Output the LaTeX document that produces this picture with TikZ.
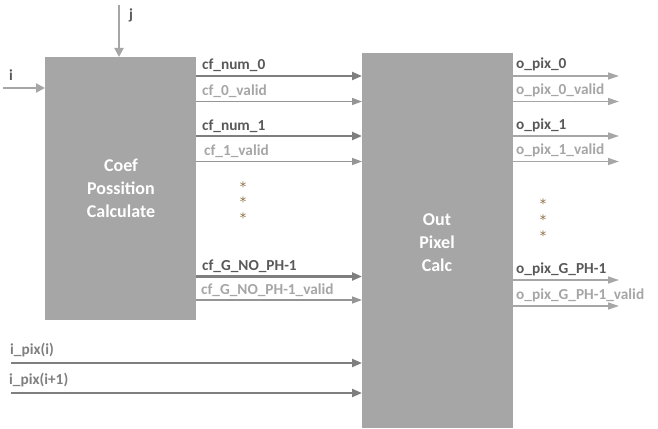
\documentclass[tikz,border=0pt]{standalone}
\usepackage{fontspec}
\setmainfont{Carlito}
\newfontfamily\starfont{DejaVu Sans}
\usetikzlibrary{arrows.meta}
\definecolor{blockgray}{HTML}{A6A6A6}
\definecolor{darkline}{HTML}{7F7F7F}
\definecolor{lightline}{HTML}{959595}
\definecolor{darktext}{HTML}{595959}
\definecolor{lighttext}{HTML}{A6A6A6}
\definecolor{dotcol}{HTML}{8C6D3F}
\begin{document}
\begin{tikzpicture}[x=1pt,y=-1pt,
  block/.style={fill=blockgray,draw=none,inner sep=0pt},
  blocktext/.style={text=white,font=\bfseries\fontsize{18}{21}\selectfont,align=center},
  busarrow/.style={draw=darkline,line width=2.2pt,-{Triangle[length=10pt,width=8pt]}},
  validarrow/.style={draw=lightline,line width=1.4pt,-{Triangle[length=10pt,width=7pt]}},
  outarrow/.style={draw=blockgray,line width=1.3pt,-{Triangle[length=11pt,width=7pt]}},
  inarrow/.style={draw=blockgray,line width=2pt,-{Triangle[length=9pt,width=9pt]}},
  buslabel/.style={anchor=base west,text=darktext,font=\bfseries\fontsize{15.3}{17}\selectfont,inner sep=0pt},
  validlabel/.style={anchor=base west,text=lighttext,font=\bfseries\fontsize{15.3}{17}\selectfont,inner sep=0pt},
  dot/.style={text=dotcol,font=\starfont\fontsize{13}{15}\selectfont,inner sep=0pt}]
\useasboundingbox (0,0) rectangle (658,428);

% processing blocks
\fill[blockgray] (45,57) rectangle (196,320);
\fill[blockgray] (362,53) rectangle (513,428);
\coordinate (coefW) at (45,88);
\coordinate (coefN) at (119,57);
\node[blocktext] (coef) at (121,188) {Coef\\[2pt]Possition\\[2pt]Calculate};
\node[blocktext] (outpix) at (437,243) {Out\\[2pt]Pixel\\[2pt]Calc};

% inputs of the coefficient block
\coordinate (iin) at (3,88);
\coordinate (jin) at (119,5);
\draw[inarrow] (iin) -- (coefW);
\draw[inarrow] (jin) -- (coefN);
\node[buslabel] (ilab) at (9,81) {i};
\node[buslabel] (jlab) at (129,20) {j};

% coefficient buses between the blocks
\foreach \y/\name/\sty/\lsty/\txt/\lx in {
  76/a/busarrow/buslabel/cf\_num\_0/202,
  101.5/b/validarrow/validlabel/cf\_0\_valid/202,
  136/c/busarrow/buslabel/cf\_num\_1/202,
  161.5/d/validarrow/validlabel/cf\_1\_valid/204,
  276.5/e/busarrow/buslabel/cf\_G\_NO\_PH-1/202,
  300/f/validarrow/validlabel/cf\_G\_NO\_PH-1\_valid/201}{
  \coordinate (s\name) at (196,\y);
  \coordinate (t\name) at (362,\y);
  \draw[\sty] (s\name) -- (t\name);
  \node[\lsty] (l\name) at (\lx,\y-6) {\txt};
}
\node[dot] (d1) at (243,187) {*};
\node[dot] (d2) at (243,202) {*};
\node[dot] (d3) at (243,218) {*};

% pixel outputs
\foreach \y/\name/\lsty/\txt in {
  76/a/buslabel/o\_pix\_0,
  101.5/b/validlabel/o\_pix\_0\_valid,
  136/c/buslabel/o\_pix\_1,
  161.5/d/validlabel/o\_pix\_1\_valid,
  280/e/buslabel/o\_pix\_G\_PH-1,
  306/f/validlabel/o\_pix\_G\_PH-1\_valid}{
  \coordinate (os\name) at (513,\y);
  \coordinate (ot\name) at (619,\y);
  \draw[outarrow] (os\name) -- (ot\name);
  \node[\lsty] (ol\name) at (516,\y-7) {\txt};
}
\node[dot] (e1) at (543,204) {*};
\node[dot] (e2) at (543,220) {*};
\node[dot] (e3) at (543,236) {*};

% input pixels
\coordinate (p0) at (11,363);
\coordinate (q0) at (362,363);
\coordinate (p1) at (11,393);
\coordinate (q1) at (362,393);
\draw[busarrow] (p0) -- (q0);
\draw[busarrow] (p1) -- (q1);
\node[anchor=base west,text=darkline,font=\bfseries\fontsize{15.3}{17}\selectfont,inner sep=0pt] (pl0) at (10,354) {i\_pix(i)};
\node[anchor=base west,text=darkline,font=\bfseries\fontsize{15.3}{17}\selectfont,inner sep=0pt] (pl1) at (9,384) {i\_pix(i+1)};
\end{tikzpicture}
\end{document}
